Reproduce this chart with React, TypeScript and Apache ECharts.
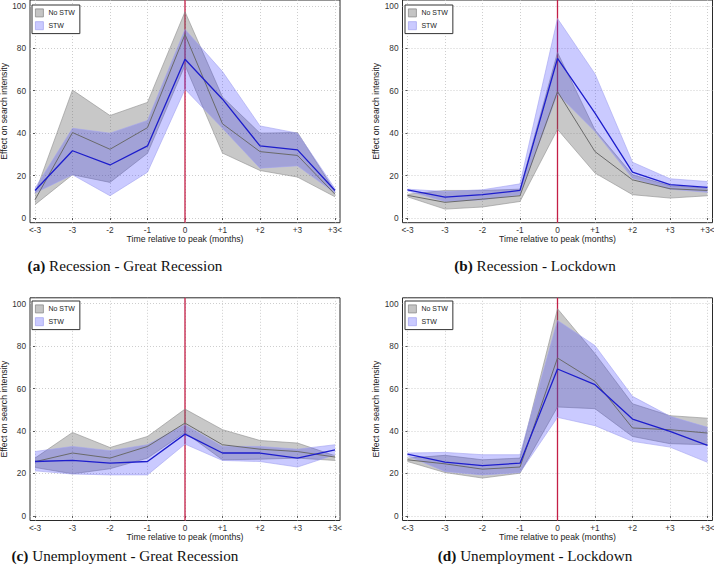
import React, { useEffect, useRef } from "react";
import * as echarts from "echarts";

// ---------- data ----------
const categories = ["<-3", "-3", "-2", "-1", "0", "+1", "+2", "+3", "+3<"];
const yTicks = [0, 20, 40, 60, 80, 100];
const peakCategory = "0";
const legendNames = ["No STW", "STW"];
const xAxisTitle = "Time relative to peak (months)";
const yAxisTitle = "Effect on search intensity";

const captionLetters = ["(a)", "(b)", "(c)", "(d)"];
const captionTexts = [
  "Recession - Great Recession",
  "Recession - Lockdown",
  "Unemployment - Great Recession",
  "Unemployment - Lockdown",
];

// (a) Recession - Great Recession
const noStwMeanA = [8.6, 40.3, 32.4, 42.6, 86.5, 44.4, 31.3, 29.5, 11.2];
const noStwUpperA = [11.5, 60.3, 48.3, 54.5, 97.2, 57, 40, 40.3, 12.5];
const noStwLowerA = [6.3, 20.4, 16.8, 30.5, 72, 30.6, 22.4, 19.3, 10];
const stwMeanA = [13, 31.7, 25, 34, 74.8, 56, 34, 32.1, 13];
const stwUpperA = [14, 42.3, 40, 46, 88.9, 69, 43.4, 40, 13.8];
const stwLowerA = [11.8, 20.4, 10.5, 21.6, 60.7, 42.3, 23.5, 24.6, 11.8];

// (b) Recession - Lockdown
const noStwMeanB = [10.7, 7.4, 8.9, 10.5, 59.6, 31.3, 18, 13.8, 13];
const noStwUpperB = [11.2, 13, 13, 13.6, 78, 41.5, 20.4, 15.2, 14.1];
const noStwLowerB = [10, 4.2, 5.2, 7.8, 41.8, 21.2, 11, 9.4, 10.5];
const stwMeanB = [13.3, 9.9, 11, 13, 75.2, 49.4, 21.6, 15.7, 14.4];
const stwUpperB = [13.6, 12.5, 13.3, 16.1, 94, 67.9, 26.3, 18.5, 17.2];
const stwLowerB = [12.8, 7.8, 8.6, 11, 58.5, 40.8, 18.8, 13.6, 12.1];

// (c) Unemployment - Great Recession
const noStwMeanC = [25.5, 29.6, 27.2, 32.7, 43.7, 33.5, 31.4, 30.3, 27.7];
const noStwUpperC = [27.2, 39.3, 32.2, 37.4, 50.3, 40.6, 35.5, 34.3, 28.3];
const noStwLowerC = [22.8, 19.8, 22.2, 27.2, 39.3, 26.4, 26.7, 27.2, 26.1];
const stwMeanC = [25.6, 26.1, 24.8, 25.6, 38.5, 29.6, 29.6, 27.2, 31.1];
const stwUpperC = [30.3, 32.7, 30.7, 33.5, 42.9, 32.7, 32.7, 31.4, 33.5];
const stwLowerC = [21.2, 19.7, 19.3, 19.3, 33.8, 26.1, 25.6, 23, 28.8];

// (d) Unemployment - Lockdown
const noStwMeanD = [26.4, 24.5, 22, 23, 74.4, 63.4, 41.4, 40.6, 39];
const noStwUpperD = [27.2, 28.5, 26.4, 27.2, 97.6, 76.4, 52.8, 47.2, 46];
const noStwLowerD = [25.6, 20.4, 17.8, 20.1, 51.3, 50.5, 37.4, 34, 33.5];
const stwMeanD = [29.1, 25.3, 23.7, 24.8, 69.2, 61.8, 45.6, 39.8, 33.2];
const stwUpperD = [29.6, 29.9, 28.8, 28.8, 92.1, 80.2, 56.3, 46.9, 41.7];
const stwLowerD = [28.3, 20.9, 19.3, 20.4, 46.4, 42.5, 35.1, 32.4, 25.2];

const panelData = [
  { noMean: noStwMeanA, noUp: noStwUpperA, noLo: noStwLowerA, stMean: stwMeanA, stUp: stwUpperA, stLo: stwLowerA },
  { noMean: noStwMeanB, noUp: noStwUpperB, noLo: noStwLowerB, stMean: stwMeanB, stUp: stwUpperB, stLo: stwLowerB },
  { noMean: noStwMeanC, noUp: noStwUpperC, noLo: noStwLowerC, stMean: stwMeanC, stUp: stwUpperC, stLo: stwLowerC },
  { noMean: noStwMeanD, noUp: noStwUpperD, noLo: noStwLowerD, stMean: stwMeanD, stUp: stwUpperD, stLo: stwLowerD },
];

// ---------- layout ----------
const W = 714;
const H = 579;
const FRAME_W = 310;
const FRAME_H = 222.7;
const X_PAD = 0.1333;
const Y_MIN = -2.2;
const Y_MAX = 102.75;
const layouts = [
  { left: 30, top: 0, legendLeft: 32, legendTop: 5, capX: 125, capY: 265 },
  { left: 402.5, top: 0, legendLeft: 405, legendTop: 5, capX: 535, capY: 265 },
  { left: 30, top: 297.8, legendLeft: 32, legendTop: 301, capX: 125, capY: 555 },
  { left: 402.5, top: 297.8, legendLeft: 405, legendTop: 301, capX: 535, capY: 555 },
];

const SANS = "Liberation Sans, Arial, sans-serif";
const SERIF = "Liberation Serif, Times New Roman, serif";
const GRAY_FILL = "rgba(95,95,95,0.34)";
const GRAY_EDGE = "#8e8e8e";
const BLUE_FILL = "rgba(60,60,255,0.27)";
const BLUE_EDGE = "#a3a3f0";
const GRAY_LINE = "#6a6a6a";
const BLUE_LINE = "#1d1dcc";
const RED_LINE = "#c41e46";

function bandSeries(name: string, g: number, up: number[], lo: number[], fill: string, z: number) {
  return {
    type: "custom",
    name,
    xAxisIndex: g,
    yAxisIndex: g,
    silent: true,
    z,
    data: up.map((v, i) => [i, lo[i], v]),
    encode: { x: 0, y: [1, 2] },
    renderItem: (params: any, api: any) => {
      if (params.dataIndex !== 0) return null;
      const upper = up.map((v, i) => api.coord([i, v]));
      const lower = lo.map((v, i) => api.coord([i, v])).reverse();
      return {
        type: "polygon",
        shape: { points: upper.concat(lower) },
        style: { fill, stroke: "none" },
        silent: true,
      };
    },
  };
}

function buildOption() {
  const idx = categories.map((_, i) => i);
  const peakIdx = categories.indexOf(peakCategory);
  const pairs = (arr: number[]) => arr.map((v, i) => [i, v]);

  const grid = layouts.map((l) => ({
    left: l.left,
    top: l.top,
    width: FRAME_W,
    height: FRAME_H,
    show: true,
    borderColor: "#2a2a2a",
    borderWidth: 1,
    backgroundColor: "transparent",
    containLabel: false,
    outerBoundsMode: "none",
  }));

  const xAxis = layouts.map((_, g) => ({
    type: "value",
    gridIndex: g,
    min: -X_PAD,
    max: categories.length - 1 + X_PAD,
    name: xAxisTitle,
    nameLocation: "middle",
    nameGap: 12,
    nameTextStyle: { fontSize: 8.7, color: "#222", fontFamily: SANS },
    axisLine: { show: false },
    axisTick: { show: true, length: 2, inside: false, customValues: idx, lineStyle: { color: "#333", width: 0.8 } },
    axisLabel: {
      show: true,
      customValues: idx,
      formatter: (v: number) => categories[Math.round(v)] ?? "",
      fontSize: 8.3,
      color: "#333",
      fontFamily: SANS,
      margin: 3,
    },
    splitLine: { show: true, lineStyle: { color: "#c2c2c2", type: [1, 2], width: 0.8 } },
  }));

  const yAxis = layouts.map((_, g) => ({
    type: "value",
    gridIndex: g,
    min: Y_MIN,
    max: Y_MAX,
    name: yAxisTitle,
    nameLocation: "middle",
    nameGap: 19,
    nameTextStyle: { fontSize: 8.7, color: "#222", fontFamily: SANS },
    axisLine: { show: false },
    axisTick: { show: true, length: 2, inside: false, customValues: yTicks, lineStyle: { color: "#333", width: 0.8 } },
    axisLabel: { show: true, customValues: yTicks, fontSize: 8.3, color: "#333", fontFamily: SANS, margin: 4 },
    splitLine: { show: true, lineStyle: { color: "#c2c2c2", type: [1, 2], width: 0.8 } },
  }));

  const series: any[] = [];
  panelData.forEach((p, g) => {
    const common = { xAxisIndex: g, yAxisIndex: g, type: "line", symbol: "none", showSymbol: false, silent: true };
    series.push({
      ...common,
      name: "peak" + g,
      data: [
        [peakIdx, Y_MIN],
        [peakIdx, Y_MAX],
      ],
      lineStyle: { color: RED_LINE, width: 1.3 },
      z: 1,
    });
    series.push(bandSeries(legendNames[0], g, p.noUp, p.noLo, GRAY_FILL, 2));
    series.push({ ...common, name: "noUpperEdge" + g, data: pairs(p.noUp), lineStyle: { color: GRAY_EDGE, width: 0.6 }, z: 2 });
    series.push({ ...common, name: "noLowerEdge" + g, data: pairs(p.noLo), lineStyle: { color: GRAY_EDGE, width: 0.6 }, z: 2 });
    series.push(bandSeries(legendNames[1], g, p.stUp, p.stLo, BLUE_FILL, 3));
    series.push({ ...common, name: "stUpperEdge" + g, data: pairs(p.stUp), lineStyle: { color: BLUE_EDGE, width: 0.6 }, z: 3 });
    series.push({ ...common, name: "stLowerEdge" + g, data: pairs(p.stLo), lineStyle: { color: BLUE_EDGE, width: 0.6 }, z: 3 });
    series.push({ ...common, name: "noMean" + g, data: pairs(p.noMean), lineStyle: { color: GRAY_LINE, width: 1 }, z: 4 });
    series.push({ ...common, name: "stwMean" + g, data: pairs(p.stMean), lineStyle: { color: BLUE_LINE, width: 1.3 }, z: 5 });
  });

  const legend = layouts.map((l) => ({
    left: l.legendLeft,
    top: l.legendTop,
    orient: "vertical",
    icon: "rect",
    itemWidth: 8,
    itemHeight: 8,
    itemGap: 4,
    padding: [3.5, 5, 3.5, 3],
    borderColor: "#333",
    borderWidth: 1,
    borderRadius: 0,
    backgroundColor: "#fff",
    selectedMode: false,
    textStyle: { fontSize: 7, color: "#222", fontFamily: SANS },
    data: [
      { name: legendNames[0], itemStyle: { color: "#c4c4c4", borderColor: "#8c8c8c", borderWidth: 0.8 } },
      { name: legendNames[1], itemStyle: { color: "#cacaff", borderColor: "#a8a8f0", borderWidth: 0.8 } },
    ],
  }));

  const graphic = layouts.map((l, i) => ({
    type: "text",
    x: l.capX,
    y: l.capY,
    silent: true,
    style: {
      text: "{b|" + captionLetters[i] + "} " + captionTexts[i],
      align: "center",
      verticalAlign: "middle",
      fontFamily: SERIF,
      fontSize: 15.2,
      fill: "#111",
      rich: {
        b: { fontFamily: SERIF, fontSize: 15.2, fontWeight: "bold", fill: "#111" },
      },
    },
  }));

  return {
    animation: false,
    backgroundColor: "#fff",
    textStyle: { fontFamily: SANS },
    grid,
    xAxis,
    yAxis,
    legend,
    series,
    graphic,
  };
}

export default function App() {
  const ref = useRef<HTMLDivElement>(null);
  useEffect(() => {
    if (!ref.current) return;
    const chart = echarts.init(ref.current, undefined, { renderer: "svg", width: W, height: H });
    chart.setOption(buildOption() as any);
    return () => chart.dispose();
  }, []);
  return (
    <div
      ref={ref}
      style={{ position: "fixed", left: 0, top: 0, width: W, height: H, background: "#fff" }}
    />
  );
}
